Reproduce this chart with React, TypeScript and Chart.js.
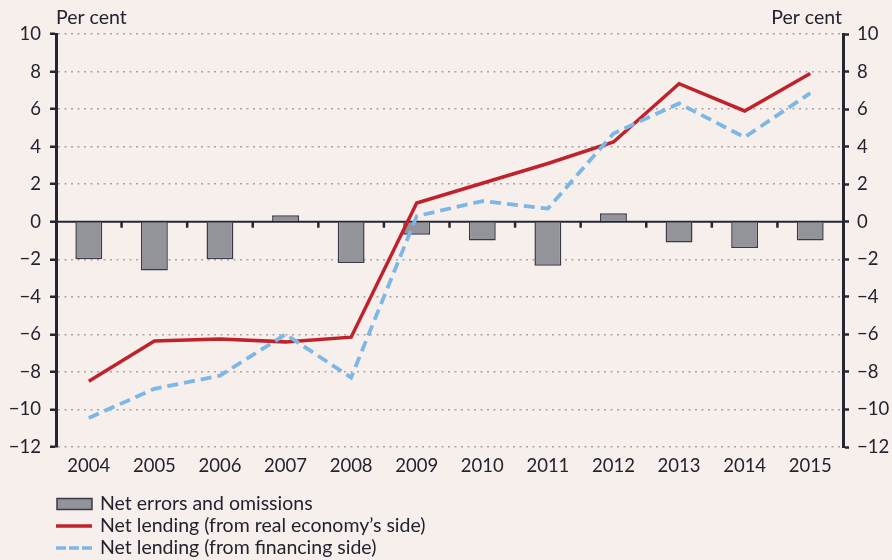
import React, { useEffect, useRef } from "react";
import { Chart, registerables } from "chart.js";

Chart.register(...registerables);

const years = ["2004", "2005", "2006", "2007", "2008", "2009", "2010", "2011", "2012", "2013", "2014", "2015"];
const netErrors = [-2.0, -2.6, -2.0, 0.35, -2.2, -0.7, -1.0, -2.35, 0.45, -1.1, -1.4, -1.0];
const netLendingReal = [-8.5, -6.35, -6.25, -6.4, -6.15, 1.0, 2.05, 3.1, 4.25, 7.35, 5.9, 7.9];
const netLendingFin = [-10.45, -8.9, -8.2, -6.0, -8.3, 0.3, 1.1, 0.7, 4.7, 6.3, 4.5, 6.85];
const seriesNames = [
  "Net errors and omissions",
  "Net lending (from real economy\u2019s side)",
  "Net lending (from financing side)",
];
const axisTitle = "Per cent";
const yMin = -12;
const yMax = 10;
const yStep = 2;

const BG = "#f6efec";
const TEXT = "#232330";
const AXIS = "#262633";
const BAR_FILL = "#939499";
const BAR_BORDER = "#3a3a46";
const RED = "#c0222b";
const BLUE = "#7db7e5";
const GRID = "#a8a5a5";
const FONT = "Lato, 'Open Sans', sans-serif";

const fmt = (v: number) => (v < 0 ? "\u2212" + Math.abs(v) : String(v));

const customPlugin = {
  id: "custom",
  beforeDraw(chart: any) {
    const { ctx, width, height } = chart;
    ctx.save();
    ctx.fillStyle = BG;
    ctx.fillRect(0, 0, width, height);
    ctx.restore();
  },
  beforeDatasetsDraw(chart: any) {
    const { ctx, chartArea } = chart;
    const x = chart.scales.x;
    const y = chart.scales.y;
    const y0 = y.getPixelForValue(0);
    ctx.save();
    ctx.strokeStyle = AXIS;
    ctx.lineWidth = 2;
    ctx.beginPath();
    ctx.moveTo(chartArea.left, y0);
    ctx.lineTo(chartArea.right, y0);
    ctx.stroke();
    ctx.lineWidth = 2.5;
    for (let i = 1; i < years.length; i++) {
      const bx = (x.getPixelForValue(i - 1) + x.getPixelForValue(i)) / 2;
      ctx.beginPath();
      ctx.moveTo(bx, y0);
      ctx.lineTo(bx, y0 + 6);
      ctx.stroke();
    }
    ctx.restore();
  },
  afterDraw(chart: any) {
    const { ctx, chartArea } = chart;
    ctx.save();
    ctx.fillStyle = TEXT;
    ctx.font = "19.5px " + FONT;
    ctx.textBaseline = "middle";
    ctx.textAlign = "left";
    ctx.fillText(axisTitle, chartArea.left, 18);
    ctx.textAlign = "right";
    ctx.fillText(axisTitle, chartArea.right - 1, 18);

    // legend
    const lx = 57;
    const rows = [504, 526, 548];
    ctx.textAlign = "left";
    ctx.fillStyle = BAR_FILL;
    ctx.fillRect(lx, rows[0] - 5.5, 35, 11);
    ctx.strokeStyle = BAR_BORDER;
    ctx.lineWidth = 1.5;
    ctx.strokeRect(lx, rows[0] - 5.5, 35, 11);
    ctx.strokeStyle = RED;
    ctx.lineWidth = 3.5;
    ctx.beginPath();
    ctx.moveTo(lx - 1, rows[1]);
    ctx.lineTo(lx + 35, rows[1]);
    ctx.stroke();
    ctx.strokeStyle = BLUE;
    ctx.setLineDash([10, 3]);
    ctx.beginPath();
    ctx.moveTo(lx - 1, rows[2]);
    ctx.lineTo(lx + 35, rows[2]);
    ctx.stroke();
    ctx.setLineDash([]);
    ctx.fillStyle = TEXT;
    for (let i = 0; i < 3; i++) {
      ctx.fillText(seriesNames[i], 100, rows[i]);
    }
    ctx.restore();
  },
};

export default function App() {
  const ref = useRef<HTMLCanvasElement | null>(null);
  useEffect(() => {
    document.body.style.margin = "0";
    document.body.style.background = BG;
    const canvas = ref.current;
    if (!canvas) return;
    const chart = new Chart(canvas, {
      type: "bar",
      data: {
        labels: years,
        datasets: [
          {
            type: "bar",
            label: seriesNames[0],
            data: netErrors,
            backgroundColor: BAR_FILL,
            borderColor: BAR_BORDER,
            borderWidth: 1.5,
            barPercentage: 0.5,
            categoryPercentage: 0.82,
            order: 2,
            yAxisID: "y",
          } as any,
          {
            type: "line",
            label: seriesNames[1],
            data: netLendingReal,
            borderColor: RED,
            borderWidth: 3.5,
            pointRadius: 0,
            tension: 0,
            fill: false,
            order: 1,
            yAxisID: "y",
          } as any,
          {
            type: "line",
            label: seriesNames[2],
            data: netLendingFin,
            borderColor: BLUE,
            borderWidth: 3.8,
            borderDash: [11, 6],
            pointRadius: 0,
            tension: 0,
            fill: false,
            order: 0,
            yAxisID: "y",
          } as any,
        ],
      },
      options: {
        animation: false,
        responsive: false,
        maintainAspectRatio: false,
        layout: { padding: { top: 34, bottom: 73, left: 0, right: 0 } },
        plugins: {
          legend: { display: false },
          tooltip: { enabled: false },
        },
        scales: {
          x: {
            grid: { display: false, drawTicks: false },
            border: { display: false },
            ticks: { color: TEXT, font: { family: FONT, size: 18.5 }, padding: 8, maxRotation: 0 },
            afterFit: (s: any) => {
              s.height = 40;
            },
          },
          y: {
            position: "left",
            min: yMin,
            max: yMax,
            ticks: {
              stepSize: yStep,
              color: TEXT,
              font: { family: FONT, size: 18.5 },
              padding: 9,
              callback: (v: any) => fmt(Number(v)),
            },
            grid: {
              color: (c: any) => (c.tick && c.tick.value === 0 ? "rgba(0,0,0,0)" : GRID),
              lineWidth: 1.5,
              tickColor: AXIS,
              tickWidth: 2.5,
              tickLength: 6,
              tickBorderDash: [],
            } as any,
            border: { display: true, color: AXIS, width: 3, dash: [2, 4.5] },
            afterFit: (s: any) => {
              s.width = 56;
            },
          },
          y2: {
            position: "right",
            min: yMin,
            max: yMax,
            ticks: {
              stepSize: yStep,
              color: TEXT,
              font: { family: FONT, size: 18.5 },
              padding: 8,
              callback: (v: any) => fmt(Number(v)),
            },
            grid: {
              drawOnChartArea: false,
              color: AXIS,
              tickColor: AXIS,
              tickWidth: 2.5,
              tickLength: 6,
            },
            border: { display: true, color: AXIS, width: 3 },
            afterFit: (s: any) => {
              s.width = 49;
            },
          },
        },
      } as any,
      plugins: [customPlugin],
    });
    return () => chart.destroy();
  }, []);
  return (
    <div style={{ position: "absolute", left: 0, top: 0, width: 892, height: 560, background: BG }}>
      <canvas ref={ref} width={892} height={560} style={{ width: 892, height: 560, display: "block" }} />
    </div>
  );
}
